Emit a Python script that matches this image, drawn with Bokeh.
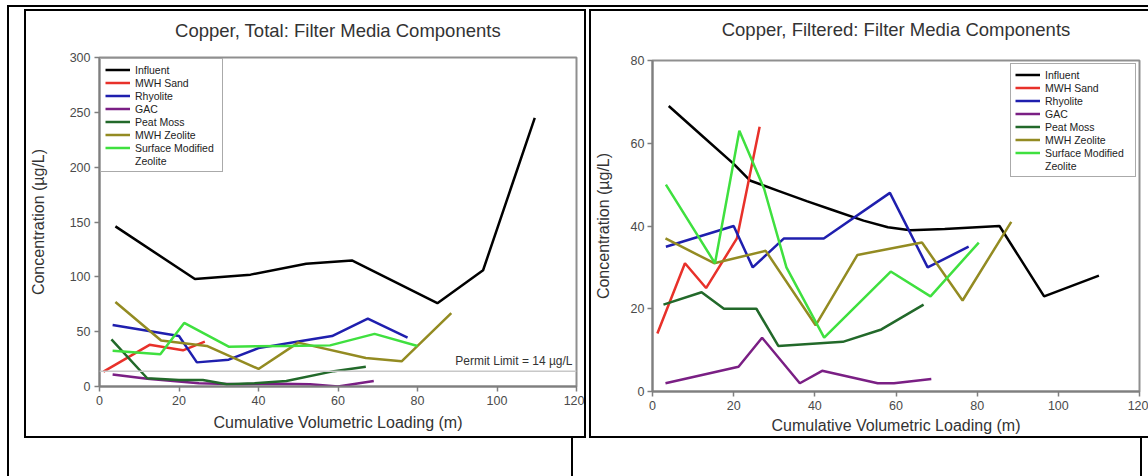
from bokeh.plotting import figure
from bokeh.layouts import row, column
from bokeh.models import (Range1d, FixedTicker, Legend, LegendItem, Span, Label,
                          Div, LinearAxis)
from bokeh.embed import file_html
from bokeh.resources import INLINE

FONT = "Liberation Sans"

# ---- shared axis setup -------------------------------------------------
X_TICKS = [0, 20, 40, 60, 80, 100, 120]
Y_TICKS_TOTAL = [0, 50, 100, 150, 200, 250, 300]
Y_TICKS_FILTERED = [0, 20, 40, 60, 80]
PERMIT_LIMIT = 14  # ug/L

SERIES = ["Influent", "MWH Sand", "Rhyolite", "GAC", "Peat Moss",
          "MWH Zeolite", "Surface Modified"]
COLORS = ["#000000", "#e8312a", "#1f1fae", "#7a1f84", "#22692a",
          "#938b22", "#3fe03f"]

# ---- Copper, total (ug/L) vs cumulative volumetric loading (m) -----------
total_influent_x = [4, 24, 38, 52, 63.5, 85, 96.5, 109.5]
total_influent_y = [146, 98, 102, 112, 115, 76, 106, 245]
total_sand_x = [1, 12.6, 21, 26.5]
total_sand_y = [13.5, 38, 33, 41]
total_rhyolite_x = [3.3, 20, 24.5, 32.5, 40, 50, 58.5, 67.5, 77.5]
total_rhyolite_y = [56, 46, 22, 24.5, 35, 41, 46, 62, 44.5]
total_gac_x = [3.3, 12, 25, 35, 45, 53, 60, 69]
total_gac_y = [11, 7, 3, 2, 2.5, 2, 0, 5]
total_peat_x = [3, 12, 20, 26, 32, 39, 47, 59, 67]
total_peat_y = [43, 7.5, 6, 6, 2, 3, 5, 14, 18]
total_mwhz_x = [4, 15.5, 27, 40, 50, 67, 76, 88.5]
total_mwhz_y = [77, 42, 37, 16, 40, 26, 23, 67]
total_smz_x = [3.3, 15.3, 21.3, 32.5, 47, 58, 69.2, 80]
total_smz_y = [32.5, 29.5, 58, 36.3, 37, 37.5, 48, 37]

# ---- Copper, filtered (ug/L) ---------------------------------------------
filt_influent_x = [4, 12, 20, 24, 31, 38, 44, 52, 58, 63.5, 72, 85.5, 96.5, 110]
filt_influent_y = [69, 62, 55, 51, 48.5, 46, 44, 41.3, 39.7, 39, 39.3, 40, 23, 28]
filt_sand_x = [1.2, 8, 13.2, 20.8, 26.4]
filt_sand_y = [14, 31, 25, 37, 64]
filt_rhyolite_x = [3.3, 20, 24.7, 32.4, 42.2, 58.5, 67.8, 77.9]
filt_rhyolite_y = [35, 40, 30, 37, 37, 48, 30, 35]
filt_gac_x = [3.2, 21.2, 27, 36.3, 41.8, 55.5, 59.5, 68.7]
filt_gac_y = [2, 6, 13, 2, 5, 2, 2, 3]
filt_peat_x = [2.7, 12.1, 17.6, 25.6, 31, 46.9, 56.4, 66.8]
filt_peat_y = [21, 24, 20, 20, 11, 12, 15, 21]
filt_mwhz_x = [3.2, 15.2, 27.9, 40.2, 50.5, 66.4, 76.4, 88.4]
filt_mwhz_y = [37, 31, 34, 16, 33, 36, 22, 41]
filt_smz_x = [3.3, 15.4, 21.4, 27.5, 33, 42.3, 58.7, 68.5, 80.4]
filt_smz_y = [50, 31, 63, 49, 30, 13, 29, 23, 36]

TOTAL = [(total_influent_x, total_influent_y), (total_sand_x, total_sand_y),
         (total_rhyolite_x, total_rhyolite_y), (total_gac_x, total_gac_y),
         (total_peat_x, total_peat_y), (total_mwhz_x, total_mwhz_y),
         (total_smz_x, total_smz_y)]
FILTERED = [(filt_influent_x, filt_influent_y), (filt_sand_x, filt_sand_y),
            (filt_rhyolite_x, filt_rhyolite_y), (filt_gac_x, filt_gac_y),
            (filt_peat_x, filt_peat_y), (filt_mwhz_x, filt_mwhz_y),
            (filt_smz_x, filt_smz_y)]


def make_panel(title, data, y_max, y_ticks, width, height, borders,
               legend_loc, legend_margin, label_width, title_gap,
               tick_standoff, ylabel_standoff, xlabel_standoff):
    left, right, top, bottom = borders
    p = figure(width=width, height=height, output_backend="svg",
               toolbar_location=None, x_range=Range1d(0, 120),
               y_range=Range1d(0, y_max),
               min_border_left=left, min_border_right=right,
               min_border_top=top, min_border_bottom=bottom)
    p.frame_align = False
    p.background_fill_color = "white"
    p.border_fill_color = "white"
    p.outline_line_color = "#8f8f8f"
    p.outline_line_width = 2
    p.grid.visible = False

    xa = p.below[0]
    ya = p.left[0]
    xa.ticker = FixedTicker(ticks=X_TICKS)
    ya.ticker = FixedTicker(ticks=y_ticks)
    xa.axis_label = "Cumulative Volumetric Loading (m)"
    ya.axis_label = "Concentration (\u00b5g/L)"
    for ax in (xa, ya):
        ax.axis_line_color = "#7f7f7f"
        ax.axis_line_width = 2
        ax.major_tick_line_color = "#7f7f7f"
        ax.major_tick_line_width = 1.5
        ax.major_tick_out = 5
        ax.major_tick_in = 0
        ax.minor_tick_out = 0
        ax.minor_tick_in = 0
        ax.major_label_text_font = FONT
        ax.major_label_text_font_size = "12.5px"
        ax.major_label_text_color = "#4a4a4a"
        ax.major_label_standoff = 4
        ax.axis_label_text_font = FONT
        ax.axis_label_text_font_size = "16px"
        ax.axis_label_text_font_style = "normal"
        ax.axis_label_text_color = "#333333"
    xa.axis_label_standoff = xlabel_standoff
    ya.major_label_standoff = tick_standoff
    ya.axis_label_standoff = ylabel_standoff

    items = []
    for name, color, (xs, ys) in zip(SERIES, COLORS, data):
        r = p.line(xs, ys, line_color=color, line_width=2.5)
        items.append(LegendItem(label=name, renderers=[r]))
    # second line of the "Surface Modified Zeolite" entry
    wrap = p.line([], [], line_alpha=0)
    items.append(LegendItem(label="Zeolite", renderers=[wrap]))

    legend = Legend(items=items, location=legend_loc, margin=legend_margin,
                    padding=4, spacing=0, glyph_width=25, glyph_height=13,
                    label_height=13, label_width=label_width, label_standoff=5,
                    label_text_font=FONT, label_text_font_size="10.5px",
                    label_text_color="#222222",
                    border_line_color="#555555", border_line_width=1.5,
                    background_fill_color="white", background_fill_alpha=1)
    p.add_layout(legend)

    # chart heading: a bare top axis whose label carries the title,
    # centred over the plot frame
    head = LinearAxis(ticker=FixedTicker(ticks=[]), axis_label=title,
                      axis_line_color=None, major_tick_out=0, major_tick_in=0,
                      minor_tick_out=0, minor_tick_in=0,
                      major_label_standoff=0, axis_label_standoff=title_gap,
                      axis_label_text_font=FONT,
                      axis_label_text_font_size="18.5px",
                      axis_label_text_font_style="normal",
                      axis_label_text_color="#333333")
    p.add_layout(head, "above")
    return p


p1 = make_panel("Copper, Total: Filter Media Components", TOTAL, 300,
                Y_TICKS_TOTAL, 562, 429, (72, 12, 46, 54),
                "top_left", 1, 83, 17, 4, 20, 6)
p1.styles = {"border": "2px solid black"}
p1.add_layout(Span(location=PERMIT_LIMIT, dimension="width",
                   line_color="#c8c8c8", line_width=1.5))
p1.add_layout(Label(x=120, y=PERMIT_LIMIT, x_offset=-4, y_offset=3,
                    text="Permit Limit = %d \u00b5g/L" % PERMIT_LIMIT,
                    text_align="right", text_baseline="bottom",
                    text_font=FONT, text_font_size="12px",
                    text_color="#333333"))

p2 = make_panel("Copper, Filtered: Filter Media Components", FILTERED, 80,
                Y_TICKS_FILTERED, 559, 429, (61, 11, 49, 49),
                "top_right", 3, 86, 21, 3, 16, 4)
p2.styles = {"border-top": "2px solid black", "border-left": "2px solid black",
             "border-bottom": "2px solid black"}

p1.margin = (2, 0, 0, 15)
p2.margin = (2, 0, 0, 3)

# page rules around and between the two chart cells
flat = {"font-size": "0px", "line-height": "0px"}
top_rule = Div(text='<div style="display:block;width:1141px;height:2px;'
                    'background:#000"></div>',
               width=1141, height=2, margin=(5, 0, 0, 7), styles=flat)
left_rule = Div(text='<div style="display:block;width:2px;height:469px;'
                     'background:#000"></div>',
                width=2, height=469, margin=(0, 0, 0, 7), styles=flat)
cell_a = Div(text="", width=564, height=38, margin=0,
             styles={"border-right": "2px solid black"})
cell_b = Div(text="", width=569, height=38, margin=0,
             styles={"border-right": "2px solid black"})

body = column(row(p1, p2, margin=0), row(cell_a, cell_b, margin=0), margin=0)
page = column(top_rule, row(left_rule, body, margin=0), margin=0)

open("out.html", "w").write(file_html(page, INLINE))
